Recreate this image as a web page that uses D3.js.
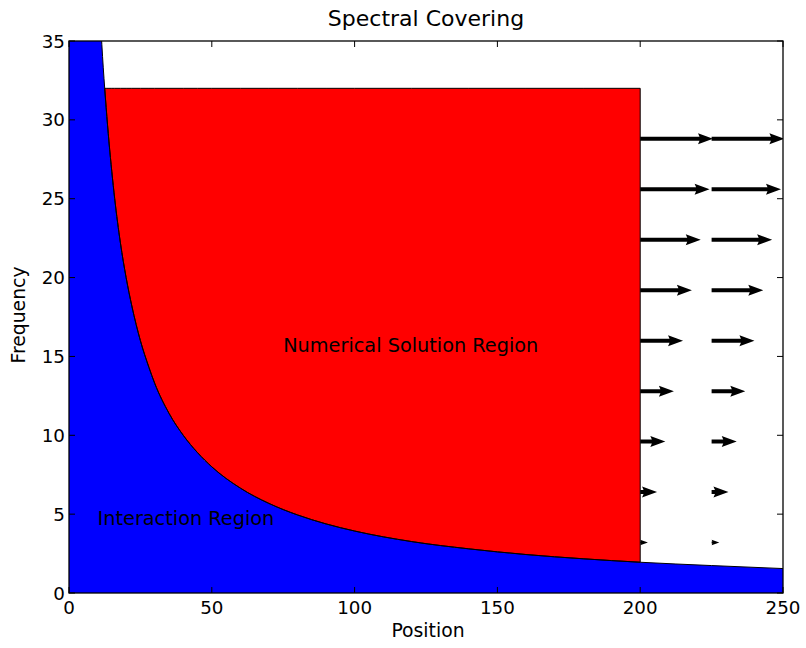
<!DOCTYPE html>
<html>
<head>
<meta charset="utf-8">
<script src="https://cdn.jsdelivr.net/npm/d3@7"></script>
<style>
    body { margin: 0; background: #fff; }
    text { font-family: "DejaVu Sans", sans-serif; fill: #000; }
</style>
</head>
<body>
<div class="chart"></div>
<script>
// boundary curve
var curveX = [0.5, 2, 5, 8, 10, 11, 12, 12.5, 13, 14, 15, 16, 18, 20, 22, 25, 28, 30, 35, 40, 45, 50,
    60, 70, 80, 90, 100, 120, 140, 160, 180, 200, 225, 250];
var curveY = [800, 200, 80, 50, 40, 36.4, 33.3, 32, 30.8, 28.6, 26.7, 25, 22.2, 20, 18.2, 16, 14.3, 13.3, 11.4, 10, 8.9, 8,
    6.65, 5.68, 4.95, 4.38, 3.93, 3.26, 2.8, 2.44, 2.17, 1.95, 1.74, 1.55];

// numerical region box
var redLeft = 12.5, redRight = 200, redTop = 32;

// quiver arrows
var arrowX = [200, 225];
var arrowY = [3.2, 6.4, 9.6, 12.8, 16.0, 19.2, 22.4, 25.6, 28.8];
var arrowU = [2.7, 5.9, 8.8, 11.8, 15.0, 18.1, 21.2, 24.3, 25.5];

// text labels
var labelText = ["Interaction Region", "Numerical Solution Region"];
var labelX = [10, 75];
var labelY = [4.3, 15.25];

var xTicks = [0, 50, 100, 150, 200, 250];
var yTicks = [0, 5, 10, 15, 20, 25, 30, 35];

function chart() {

    var margin = {top: 41, right: 23, bottom: 55, left: 69},
        width = 806 - margin.left - margin.right,
        height = 648 - margin.top - margin.bottom;

    var xScale = d3.scaleLinear().domain([0, 250]).range([0, width]),
        yScale = d3.scaleLinear().domain([0, 35]).range([height, 0]);

    var svg = d3.select(".chart").append("svg")
        .attr("width", 806)
        .attr("height", 648)
        .append("g")
        .attr("transform", "translate(" + margin.left + "," + margin.top + ")");

    svg.append("clipPath").attr("id", "plot")
        .append("rect").attr("width", width).attr("height", height);

    var pts = curveX.map(function (x, i) { return {x: x, y: curveY[i]}; });

    var plot = svg.append("g").attr("clip-path", "url(#plot)");

    // blue region under the curve
    var blue = [{x: 0, y: 800}].concat(pts);
    plot.append("path")
        .datum(blue)
        .attr("fill", "#0000ff")
        .attr("d", d3.area()
            .curve(d3.curveMonotoneX)
            .x(function (d) { return xScale(d.x); })
            .y0(yScale(0))
            .y1(function (d) { return yScale(d.y); }));

    // red region between curve and top
    var red = pts.filter(function (d) { return d.x >= redLeft && d.x <= redRight; });
    plot.append("path")
        .datum(red)
        .attr("fill", "#ff0000")
        .attr("stroke", "#000")
        .attr("stroke-width", 1)
        .attr("d", d3.area()
            .curve(d3.curveMonotoneX)
            .x(function (d) { return xScale(d.x); })
            .y0(function (d) { return yScale(d.y); })
            .y1(yScale(redTop)));

    // curve edge
    plot.append("path")
        .datum(pts)
        .attr("fill", "none")
        .attr("stroke", "#000")
        .attr("stroke-width", 1)
        .attr("d", d3.line()
            .curve(d3.curveMonotoneX)
            .x(function (d) { return xScale(d.x); })
            .y(function (d) { return yScale(d.y); }));

    // arrows
    var w = 4, hw = 11, hl = 15, hal = 13.5;
    arrowX.forEach(function (ax) {
        arrowY.forEach(function (ay, i) {
            var L = xScale(arrowU[i]) - xScale(0),
                s = L < hl ? L / hl : 1,
                sw = w * s, shw = hw * s, shl = hl * s, shal = hal * s;
            var p = [[0, -sw / 2], [L - shal, -sw / 2], [L - shl, -shw / 2], [L, 0],
                [L - shl, shw / 2], [L - shal, sw / 2], [0, sw / 2]];
            plot.append("polygon")
                .attr("transform", "translate(" + xScale(ax) + "," + yScale(ay) + ")")
                .attr("points", p.map(function (q) { return q.join(","); }).join(" "))
                .attr("fill", "#000");
        });
    });

    // region labels
    labelText.forEach(function (t, i) {
        svg.append("text")
            .attr("x", xScale(labelX[i]))
            .attr("y", yScale(labelY[i]))
            .style("font-size", "19.3px")
            .text(t);
    });

    // frame
    svg.append("rect")
        .attr("width", width)
        .attr("height", height)
        .attr("fill", "none")
        .attr("stroke", "#000")
        .attr("stroke-width", 1.3);

    // ticks pointing inward on all sides
    var tl = 6;
    xTicks.forEach(function (t) {
        svg.append("line").attr("x1", xScale(t)).attr("x2", xScale(t))
            .attr("y1", height).attr("y2", height - tl).attr("stroke", "#000");
        svg.append("line").attr("x1", xScale(t)).attr("x2", xScale(t))
            .attr("y1", 0).attr("y2", tl).attr("stroke", "#000");
        svg.append("text")
            .attr("x", xScale(t))
            .attr("y", height + 21)
            .style("text-anchor", "middle")
            .style("font-size", "18.3px")
            .text(t);
    });
    yTicks.forEach(function (t) {
        svg.append("line").attr("x1", 0).attr("x2", tl)
            .attr("y1", yScale(t)).attr("y2", yScale(t)).attr("stroke", "#000");
        svg.append("line").attr("x1", width).attr("x2", width - tl)
            .attr("y1", yScale(t)).attr("y2", yScale(t)).attr("stroke", "#000");
        svg.append("text")
            .attr("x", -4)
            .attr("y", yScale(t))
            .attr("dy", "0.36em")
            .style("text-anchor", "end")
            .style("font-size", "18.3px")
            .text(t);
    });

    // axis labels and title
    svg.append("text")
        .attr("x", width / 2 + 2)
        .attr("y", height + 44)
        .style("text-anchor", "middle")
        .style("font-size", "18.8px")
        .text("Position");

    svg.append("text")
        .attr("transform", "translate(" + (25 - margin.left) + "," + (height / 2 - 2) + ") rotate(-90)")
        .style("text-anchor", "middle")
        .style("font-size", "18.8px")
        .text("Frequency");

    svg.append("text")
        .attr("x", width / 2)
        .attr("y", 26 - margin.top)
        .style("text-anchor", "middle")
        .style("font-size", "22px")
        .text("Spectral Covering");
}

chart();
</script>
</body>
</html>
